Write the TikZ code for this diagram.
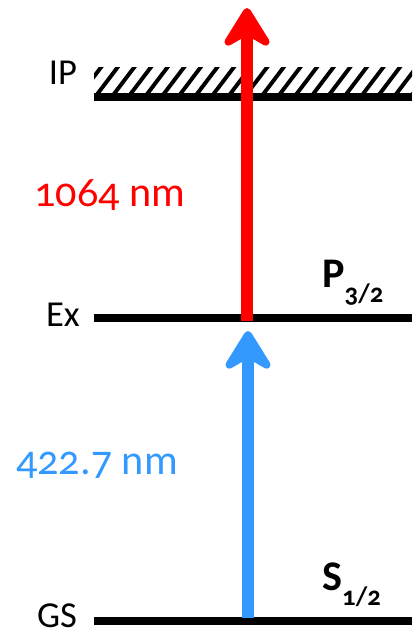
\documentclass[tikz,border=0pt]{standalone}
\usepackage{fontspec}
\setmainfont{Carlito}[Numbers=OldStyle]
\usetikzlibrary{arrows.meta}
\definecolor{ionred}{RGB}{255,0,0}
\definecolor{excblue}{RGB}{51,153,255}

\begin{document}
\begin{tikzpicture}[
    x=0.025cm, y=-0.025cm,
    level/.style={line width=5pt},
    lvllabel/.style={font=\fontsize{26}{30}\selectfont, anchor=base, inner sep=0pt},
    wavelabel/.style={font=\fontsize{30}{34}\selectfont, anchor=base},
    term/.style={font=\fontsize{30}{34}\selectfont\bfseries, anchor=base west, inner sep=0pt},
    beam/.style={line width=8.5pt, -{Stealth[length=34pt, width=42pt, inset=12pt, round]}}
  ]
    \useasboundingbox (0,0) rectangle (417,635);

    % energy levels
    \coordinate (ip-l) at (94,97);  \coordinate (ip-r) at (412,97);
    \coordinate (ex-l) at (94,318); \coordinate (ex-r) at (412,318);
    \coordinate (gs-l) at (94,621); \coordinate (gs-r) at (412,621);

    \begin{scope}
      \clip (94,68) rectangle (412,93);
      \foreach \i in {0,...,20}
        \draw[line width=2.8pt] (80+\i*16.6,95) -- (102+\i*16.6,66);
    \end{scope}
    \draw[level] (ip-l) -- (ip-r);
    \draw[level] (ex-l) -- (ex-r);
    \draw[level] (gs-l) -- (gs-r);

    \node[lvllabel] (ip) at (63,85) {IP};
    \node[lvllabel] (ex) at (63,326) {Ex};
    \node[lvllabel] (gs) at (57,627) {GS};

    % transitions
    \coordinate (blue-start) at (248,618);
    \coordinate (blue-end) at (248,331);
    \coordinate (red-start) at (247,321);
    \coordinate (red-end) at (247,8);
    \draw[beam, excblue] (blue-start) -- (blue-end);
    \draw[beam, ionred] (red-start) -- (red-end);

    \node[wavelabel, text=ionred] (red-nm) at (110,207) {1064 nm};
    \node[wavelabel, text=excblue] (blue-nm) at (97,474) {422.7 nm};

    \node[term] (p32) at (322,287) {P\raisebox{-11pt}{\fontsize{19}{19}\selectfont\bfseries 3/2}};
    \node[term] (s12) at (322,590) {S\raisebox{-11pt}{\fontsize{19}{19}\selectfont\bfseries 1/2}};
  \end{tikzpicture}
\end{document}
